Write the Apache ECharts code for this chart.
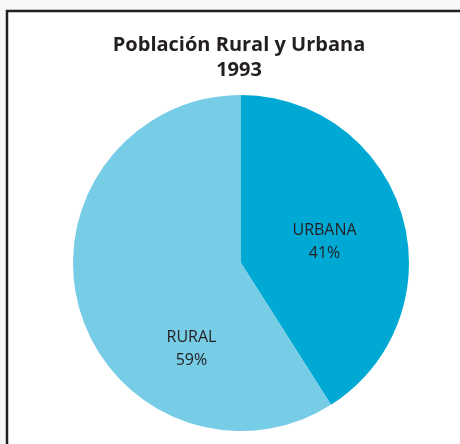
<!DOCTYPE html>
<html><head><meta charset="utf-8">
<script src="https://cdn.jsdelivr.net/npm/echarts@6/dist/echarts.min.js"></script>
<style>html,body{margin:0;padding:0;background:#f7f7f7}#c{width:460px;height:444px}</style>
</head><body><div id="c"></div>
<script>
const titleText = 'Población Rural y Urbana\n1993';
const categories = ['URBANA', 'RURAL'];
const values = [41, 59];
const colors = ['#00a9d4', '#77cce6'];

const chart = echarts.init(document.getElementById('c'));
chart.setOption({
  backgroundColor: '#f7f7f7',
  animation: false,
  graphic: [{
    type: 'rect', z: -10,
    shape: {x: 7, y: 11, width: 480, height: 460},
    style: {fill: '#ffffff', stroke: '#231f20', lineWidth: 2.5}
  }],
  title: {
    text: titleText,
    left: 234, top: 28, textAlign: 'center',
    textStyle: {fontFamily: 'Open Sans', fontWeight: 'bold', fontSize: 20, lineHeight: 25, color: '#231f20'}
  },
  series: [{
    type: 'pie',
    center: [241, 263],
    radius: [0, 168],
    startAngle: 90,
    clockwise: true,
    silent: true,
    label: {
      show: true, position: 'inside',
      formatter: p => p.name + '\n' + p.value + '%',
      fontFamily: 'Open Sans', fontSize: 16, lineHeight: 23, color: '#231f20'
    },
    labelLine: {show: false},
    data: categories.map((c, i) => ({
      name: c, value: values[i],
      itemStyle: {color: colors[i]},
      label: i === 1 ? {offset: [34, 62]} : {offset: [0, 3]}
    }))
  }]
});
</script></body></html>
